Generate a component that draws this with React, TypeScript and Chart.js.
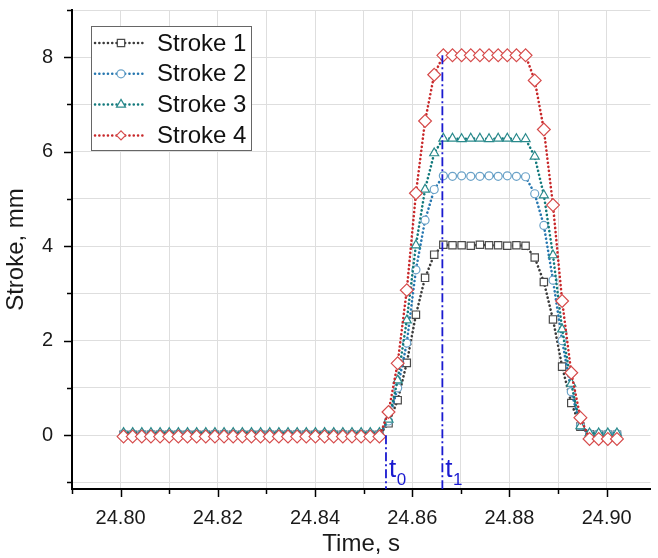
import React, { useEffect, useRef } from 'react';
import { Chart, registerables } from 'chart.js';

Chart.register(...registerables);

// ---------- data ----------
const timeS = [
  24.8006, 24.80248, 24.80436, 24.80624, 24.80812, 24.81, 24.81188, 24.81376, 24.81564, 24.81752,
  24.8194, 24.82128, 24.82316, 24.82504, 24.82692, 24.8288, 24.83068, 24.83256, 24.83444, 24.83632,
  24.8382, 24.84008, 24.84196, 24.84384, 24.84572, 24.8476, 24.84948, 24.85136, 24.85324, 24.85512,
  24.857, 24.85888, 24.86076, 24.86264, 24.86452, 24.8664, 24.86828, 24.87016, 24.87204, 24.87392,
  24.8758, 24.87768, 24.87956, 24.88144, 24.88332, 24.8852, 24.88708, 24.88896, 24.89084, 24.89272,
  24.8946, 24.89648, 24.89836, 24.90024, 24.90212,
];

const stroke1 = [
  0.01, 0.01, 0.01, 0.01, 0.01, 0.01, 0.01, 0.01, 0.01, 0.01,
  0.01, 0.01, 0.01, 0.01, 0.01, 0.01, 0.01, 0.01, 0.01, 0.01,
  0.01, 0.01, 0.01, 0.01, 0.01, 0.01, 0.01, 0.01, 0.01, 0.25,
  0.74, 1.53, 2.55, 3.33, 3.82, 4.03, 4.02, 4.02, 4.01, 4.03,
  4.02, 4.02, 4.01, 4.02, 4.01, 3.76, 3.24, 2.45, 1.45, 0.68,
  0.18, 0.02, 0.01, 0.01, 0.01,
];

const stroke2 = [
  0.03, 0.03, 0.03, 0.03, 0.03, 0.03, 0.03, 0.03, 0.03, 0.03,
  0.03, 0.03, 0.03, 0.03, 0.03, 0.03, 0.03, 0.03, 0.03, 0.03,
  0.03, 0.03, 0.03, 0.03, 0.03, 0.03, 0.03, 0.03, 0.03, 0.3,
  1.0, 1.95, 3.5, 4.55, 5.2, 5.49, 5.48, 5.49, 5.48, 5.48,
  5.49, 5.48, 5.49, 5.48, 5.47, 5.11, 4.44, 3.28, 2.0, 0.92,
  0.2, 0.03, 0.03, 0.03, 0.03,
];

const stroke3 = [
  0.05, 0.05, 0.05, 0.05, 0.05, 0.05, 0.05, 0.05, 0.05, 0.05,
  0.05, 0.05, 0.05, 0.05, 0.05, 0.05, 0.05, 0.05, 0.05, 0.05,
  0.05, 0.05, 0.05, 0.05, 0.05, 0.05, 0.05, 0.05, 0.05, 0.33,
  1.16, 2.43, 4.02, 5.2, 5.97, 6.28, 6.28, 6.27, 6.28, 6.28,
  6.27, 6.28, 6.28, 6.27, 6.27, 5.9, 5.08, 3.81, 2.24, 1.09,
  0.19, 0.04, 0.04, 0.04, 0.04,
];

const stroke4 = [
  -0.03, -0.03, -0.03, -0.03, -0.03, -0.03, -0.03, -0.03, -0.03, -0.03,
  -0.03, -0.03, -0.03, -0.03, -0.03, -0.03, -0.03, -0.03, -0.03, -0.03,
  -0.03, -0.03, -0.03, -0.03, -0.03, -0.03, -0.03, -0.03, -0.03, 0.49,
  1.52, 3.07, 5.12, 6.65, 7.63, 8.04, 8.04, 8.04, 8.04, 8.04,
  8.04, 8.04, 8.04, 8.04, 8.04, 7.51, 6.47, 4.87, 2.84, 1.32,
  0.37, -0.08, -0.08, -0.08, -0.08,
];

const seriesLabels = ['Stroke 1', 'Stroke 2', 'Stroke 3', 'Stroke 4'];
const seriesValues = [stroke1, stroke2, stroke3, stroke4];

const xAxisTitle = 'Time, s';
const yAxisTitle = 'Stroke, mm';

// vertical marker lines t0 / t1
const markerTimes = [24.8546, 24.8662];
const markerFrom = [0, 8.04];
const markerSubs = ['0', '1'];

// ---------- styles ----------
const FONT = '"Liberation Sans", Arial, sans-serif';
const lineColors = ['#3a3a3a', '#2677b0', '#12797c', '#c8282a'];
const pointColors = ['#4a4a4a', '#6aa2c8', '#2a8a8c', '#d64b4b'];
const pointStyles = ['rect', 'circle', 'triangle', 'rectRot'];
const pointRadii = [5.2, 4, 5.2, 6.4];
const markerBlue = '#1a1ad0';

function drawMarker(ctx: CanvasRenderingContext2D, style: string, x: number, y: number, r: number, color: string) {
  ctx.save();
  ctx.setLineDash([]);
  ctx.fillStyle = '#ffffff';
  ctx.strokeStyle = color;
  ctx.lineWidth = 1.2;
  ctx.beginPath();
  if (style === 'rect') {
    const s = Math.SQRT1_2 * r;
    ctx.rect(x - s, y - s, 2 * s, 2 * s);
  } else if (style === 'circle') {
    ctx.arc(x, y, r, 0, Math.PI * 2);
  } else if (style === 'triangle') {
    ctx.moveTo(x, y - r);
    ctx.lineTo(x + Math.sin(Math.PI * 2 / 3) * r, y + r / 2);
    ctx.lineTo(x - Math.sin(Math.PI * 2 / 3) * r, y + r / 2);
    ctx.closePath();
  } else {
    const s = Math.SQRT1_2 * r;
    ctx.moveTo(x - s, y);
    ctx.lineTo(x, y + s);
    ctx.lineTo(x + s, y);
    ctx.lineTo(x, y - s);
    ctx.closePath();
  }
  ctx.fill();
  ctx.stroke();
  ctx.restore();
}

const tickMarksPlugin = {
  id: 'tickMarks',
  afterDraw(chart: any) {
    const ctx = chart.ctx as CanvasRenderingContext2D;
    const xs = chart.scales.x;
    const ys = chart.scales.y;
    ctx.save();
    ctx.strokeStyle = '#000';
    ctx.lineWidth = 1.5;
    xs.ticks.forEach((t: any) => {
      const px = Math.round(xs.getPixelForValue(t.value)) + 0.5;
      const major = Math.round(t.value * 100) % 2 === 0;
      const len = major ? 8 : 5;
      ctx.beginPath();
      ctx.moveTo(px, xs.top);
      ctx.lineTo(px, xs.top + len);
      ctx.stroke();
    });
    ys.ticks.forEach((t: any) => {
      const py = Math.round(ys.getPixelForValue(t.value)) + 0.5;
      const major = Math.round(t.value) % 2 === 0;
      const len = major ? 8 : 5;
      ctx.beginPath();
      ctx.moveTo(ys.right, py);
      ctx.lineTo(ys.right - len, py);
      ctx.stroke();
    });
    ctx.restore();
  },
};

const timeMarkerPlugin = {
  id: 'timeMarkers',
  afterDatasetsDraw(chart: any) {
    const ctx = chart.ctx as CanvasRenderingContext2D;
    const xs = chart.scales.x;
    const ys = chart.scales.y;
    const bottom = chart.chartArea.bottom;
    ctx.save();
    markerTimes.forEach((t, i) => {
      const px = xs.getPixelForValue(t);
      const top = ys.getPixelForValue(markerFrom[i]);
      ctx.strokeStyle = markerBlue;
      ctx.lineWidth = 1.8;
      ctx.setLineDash([9, 3, 2, 3]);
      ctx.beginPath();
      ctx.moveTo(px, top);
      ctx.lineTo(px, bottom);
      ctx.stroke();
      ctx.setLineDash([]);
      ctx.fillStyle = markerBlue;
      ctx.textAlign = 'left';
      ctx.textBaseline = 'alphabetic';
      ctx.font = `26px ${FONT}`;
      const tx = px + 3;
      ctx.fillText('t', tx, 477);
      const tw = ctx.measureText('t').width;
      ctx.font = `17px ${FONT}`;
      ctx.fillText(markerSubs[i], tx + tw + 0.5, 485);
    });
    ctx.restore();
  },
};

const legendPlugin = {
  id: 'boxLegend',
  afterDraw(chart: any) {
    const ctx = chart.ctx as CanvasRenderingContext2D;
    ctx.save();
    const bx = 91.5, by = 26.5, bw = 160, bh = 124;
    ctx.fillStyle = '#ffffff';
    ctx.fillRect(bx, by, bw, bh);
    ctx.strokeStyle = '#666666';
    ctx.lineWidth = 1;
    ctx.strokeRect(bx, by, bw, bh);
    seriesLabels.forEach((lab, i) => {
      const y = 43 + i * 30.8;
      ctx.strokeStyle = lineColors[i];
      ctx.lineWidth = 2.5;
      ctx.lineCap = 'round';
      ctx.setLineDash([0.1, 4.2]);
      ctx.beginPath();
      ctx.moveTo(95, y);
      ctx.lineTo(146, y);
      ctx.stroke();
      ctx.setLineDash([]);
      drawMarker(ctx, pointStyles[i], 121, y, pointRadii[i], pointColors[i]);
      ctx.fillStyle = '#111111';
      ctx.font = `24px ${FONT}`;
      ctx.textAlign = 'left';
      ctx.textBaseline = 'middle';
      ctx.fillText(lab, 157, y + 1);
    });
    ctx.restore();
  },
};

export default function App() {
  const canvasRef = useRef<HTMLCanvasElement | null>(null);

  useEffect(() => {
    document.body.style.margin = '0';
    const canvas = canvasRef.current;
    if (!canvas) return;

    const datasets = seriesValues.map((vals, i) => ({
      label: seriesLabels[i],
      data: timeS.map((t, k) => ({ x: t, y: vals[k] })),
      borderColor: lineColors[i],
      backgroundColor: '#ffffff',
      borderWidth: 2.6,
      borderDash: [0.1, 4],
      borderCapStyle: 'round' as const,
      tension: 0,
      fill: false,
      pointStyle: pointStyles[i] as any,
      pointRadius: pointRadii[i],
      pointBorderColor: pointColors[i],
      pointBackgroundColor: '#ffffff',
      pointBorderWidth: 1.2,
      order: 3 - i,
    }));

    const chart = new Chart(canvas, {
      type: 'line',
      data: { datasets },
      options: {
        responsive: false,
        animation: false,
        layout: { padding: { top: 10, right: 0, left: 0, bottom: 0 } },
        plugins: {
          legend: { display: false },
          tooltip: { enabled: false },
        },
        scales: {
          x: {
            type: 'linear',
            min: 24.79,
            max: 24.909,
            afterFit: (scale: any) => {
              scale.height = 69;
              scale.paddingLeft = 0;
              scale.paddingRight = 0;
            },
            ticks: {
              stepSize: 0.01,
              autoSkip: false,
              includeBounds: false,
              maxRotation: 0,
              padding: 17,
              color: '#1a1a1a',
              font: { family: FONT, size: 20 },
              callback: (v: any) => {
                const n = Math.round(Number(v) * 100);
                return n % 2 === 0 ? (n / 100).toFixed(2) : '';
              },
            },
            grid: { color: '#dedede', lineWidth: 1, drawTicks: false },
            border: { color: '#000', width: 2 },
            title: {
              display: true,
              text: xAxisTitle,
              color: '#1a1a1a',
              font: { family: FONT, size: 24, lineHeight: 1.0 },
              padding: { top: 0, bottom: 2 },
            },
          },
          y: {
            type: 'linear',
            min: -1.14,
            max: 9,
            afterFit: (scale: any) => {
              scale.width = 72;
              scale.paddingTop = 0;
              scale.paddingBottom = 0;
            },
            ticks: {
              stepSize: 1,
              autoSkip: false,
              includeBounds: false,
              padding: 19,
              color: '#1a1a1a',
              font: { family: FONT, size: 20 },
              callback: (v: any) => {
                const n = Math.round(Number(v));
                return n >= 0 && n % 2 === 0 ? String(n) : '';
              },
            },
            grid: { color: '#dedede', lineWidth: 1, drawTicks: false },
            border: { color: '#000', width: 2 },
            title: {
              display: true,
              text: yAxisTitle,
              color: '#1a1a1a',
              font: { family: FONT, size: 24 },
              padding: { top: 2, bottom: 0 },
            },
          },
        },
      },
      plugins: [timeMarkerPlugin, tickMarksPlugin, legendPlugin],
    });

    return () => chart.destroy();
  }, []);

  return (
    <div style={{ width: 658, height: 558, background: '#fff' }}>
      <canvas ref={canvasRef} width={658} height={558} style={{ display: 'block' }} />
    </div>
  );
}
